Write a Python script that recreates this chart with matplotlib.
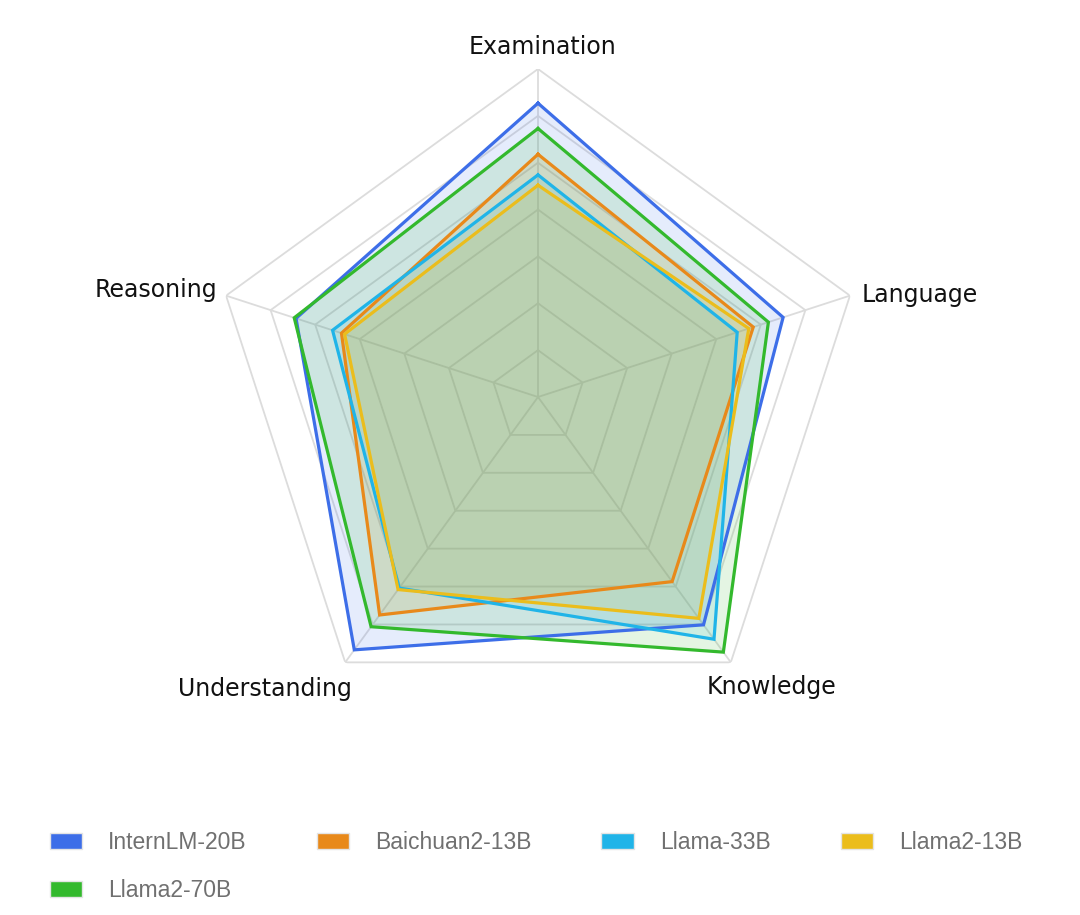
import numpy as np
import matplotlib
matplotlib.use("Agg")
import matplotlib.pyplot as plt
from matplotlib.patches import Patch

categories = ["Examination", "Language", "Knowledge", "Understanding", "Reasoning"]
models = ["InternLM-20B", "Baichuan2-13B", "Llama-33B", "Llama2-13B", "Llama2-70B"]
internlm_20b = [62.7, 55.0, 60.1, 66.7, 54.3]
baichuan2_13b = [51.8, 48.3, 48.7, 57.5, 44.1]
llama_33b = [47.4, 44.7, 63.9, 50.4, 46.1]
llama2_13b = [45.2, 47.3, 58.4, 50.8, 43.4]
llama2_70b = [57.3, 51.7, 67.3, 60.6, 54.7]
series = [internlm_20b, baichuan2_13b, llama_33b, llama2_13b, llama2_70b]
colors = ["#3d6ee8", "#e8891a", "#20b4e8", "#ebbd1c", "#33b92d"]
rings = [10, 20, 30, 40, 50, 60, 70]
r_max = 70

W, H = 1080, 915
fig = plt.figure(figsize=(W / 100, H / 100), dpi=100)
fig.patch.set_facecolor("white")

cx, cy, R = 538, 397, 328
ax = fig.add_axes([(cx - R) / W, 1 - (cy + R) / H, 2 * R / W, 2 * R / H],
                  projection="polar")
ax.set_theta_offset(np.pi / 2)
ax.set_theta_direction(-1)
ax.set_ylim(0, r_max)
ax.grid(False)
ax.set_xticks([])
ax.set_yticks([])
ax.spines["polar"].set_visible(False)
ax.patch.set_alpha(0)

n = len(categories)
angles = np.linspace(0, 2 * np.pi, n, endpoint=False)
closed = np.concatenate([angles, angles[:1]])

grid_c = "#dcdcdc"
for rv in rings:
    ax.plot(closed, [rv] * (n + 1), color=grid_c, lw=1.3, zorder=1)
for a in angles:
    ax.plot([a, a], [0, r_max], color=grid_c, lw=1.3, zorder=1)

for vals, c in zip(series, colors):
    v = list(vals) + [vals[0]]
    ax.fill(closed, v, color=c, alpha=0.13, lw=0, zorder=2)
    ax.plot(closed, v, color=c, lw=2.3, zorder=3, solid_joinstyle="miter")

# category labels (polar positions, clockwise from top)
label_pos = [(0.8, 74.7, "center", "center"),
             (72.5, 72.5, "left", "center"),
             (141.1, 79.5, "center", "center"),
             (223.1, 85.3, "center", "center"),
             (285.6, 84.7, "center", "center")]
for cat, (deg, rr, ha, va) in zip(categories, label_pos):
    ax.text(np.deg2rad(deg), rr, cat, ha=ha, va=va, fontsize=17,
            family="DejaVu Sans", color="#111111", clip_on=False)

# legend: row-wise order emulated for column-major filling
order = [0, 4, 1, 2, 3]
handles = [Patch(facecolor=colors[i], edgecolor="#e4e4e4", linewidth=1.0) for i in order]
labels = [models[i] for i in order]
leg = fig.legend(handles, labels, ncol=4, loc="upper left",
                 bbox_to_anchor=(29 / W, 1 - 810 / H),
                 frameon=False, handlelength=1.4, handleheight=0.7,
                 handletextpad=1.15, columnspacing=3.05, labelspacing=1.1,
                 prop={"family": "Liberation Sans", "size": 16.5})
for t in leg.get_texts():
    t.set_color("#707070")

fig.savefig("out.png", dpi=100, facecolor="white")
